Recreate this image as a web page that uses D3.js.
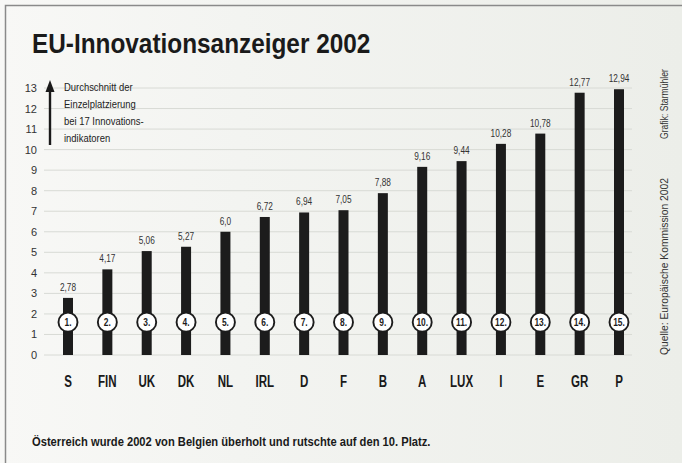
<!DOCTYPE html>
<html>
<head>
<meta charset="utf-8">
<script src="https://cdn.jsdelivr.net/npm/d3@7"></script>
<style>
  body { margin: 0; background: #fff; }
  svg text { font-family: "Liberation Sans", Arial, sans-serif; }
</style>
</head>
<body>
<script>
let width = 682;
let height = 463;

// data
let countries = ["S", "FIN", "UK", "DK", "NL", "IRL", "D", "F", "B", "A", "LUX", "I", "E", "GR", "P"];
let values = [2.78, 4.17, 5.06, 5.27, 6.0, 6.72, 6.94, 7.05, 7.88, 9.16, 9.44, 10.28, 10.78, 12.77, 12.94];
let valueLabels = ["2,78", "4,17", "5,06", "5,27", "6,0", "6,72", "6,94", "7,05", "7,88", "9,16", "9,44", "10,28", "10,78", "12,77", "12,94"];
let ranks = ["1.", "2.", "3.", "4.", "5.", "6.", "7.", "8.", "9.", "10.", "11.", "12.", "13.", "14.", "15."];
let yTicks = d3.range(0, 14);
let noteLines = ["Durchschnitt der", "Einzelplatzierung", "bei 17 Innovations-", "indikatoren"];

let svg = d3.select("body").append("svg")
  .attr("width", width)
  .attr("height", height);

// no condensed font installed, so squeeze text horizontally
let narrow = (sel, x, y, sx, rot) =>
  sel.attr("transform", (d, i) => {
    let xx = typeof x === "function" ? x(d, i) : x;
    let yy = typeof y === "function" ? y(d, i) : y;
    return `translate(${xx},${yy})` + (rot ? ` rotate(${rot})` : "") + ` scale(${sx},1)`;
  });

// background + frame
let grad = svg.append("defs").append("linearGradient").attr("id", "bg").attr("x1", 0).attr("x2", 1);
grad.append("stop").attr("offset", "0%").attr("stop-color", "#f8f8f6");
grad.append("stop").attr("offset", "35%").attr("stop-color", "#f3f4f1");
grad.append("stop").attr("offset", "100%").attr("stop-color", "#eceee9");
svg.append("rect").attr("width", width).attr("height", height).attr("fill", "url(#bg)");
svg.append("path")
  .attr("d", `M5.5,${height} V5.5 H${width}`)
  .attr("fill", "none").attr("stroke", "#8a8a8a").attr("stroke-width", 1.5);

let x = d3.scalePoint().domain(countries).range([68, 619]);
let y = d3.scaleLinear().domain([0, 13]).range([355, 88]);

// title
svg.append("text")
  .call(narrow, 32, 53, 0.87)
  .attr("font-size", 28).attr("font-weight", "bold").attr("fill", "#1a1a1a")
  .text("EU-Innovationsanzeiger 2002");

// grid lines
svg.append("g").selectAll("line").data(yTicks).join("line")
  .attr("x1", 44).attr("x2", 632)
  .attr("y1", d => y(d)).attr("y2", d => y(d))
  .attr("stroke", "#d8dad5").attr("stroke-width", 1);

// y axis labels
let yAxis = d3.axisLeft(y).tickValues(yTicks).tickSize(0).tickPadding(0);
let yg = svg.append("g").attr("transform", "translate(37,0)").call(yAxis);
yg.select(".domain").remove();
yg.selectAll("text").attr("font-size", 11).attr("fill", "#333")
  .style("font-family", "'Liberation Sans', sans-serif");

// arrow and note
svg.append("line")
  .attr("x1", 50).attr("x2", 50).attr("y1", 145).attr("y2", 90)
  .attr("stroke", "#1a1a1a").attr("stroke-width", 2.4);
svg.append("path")
  .attr("d", "M45.5,92 L50,80 L54.5,92 Z").attr("fill", "#1a1a1a");
svg.append("g").selectAll("text").data(noteLines).join("text")
  .call(narrow, 64, (d, i) => 91 + i * 17, 0.9)
  .attr("font-size", 10.5).attr("fill", "#222")
  .text(d => d);

// bars
let barW = 10;
svg.append("g").selectAll("rect").data(values).join("rect")
  .attr("x", (d, i) => x(countries[i]) - barW / 2)
  .attr("width", barW)
  .attr("y", d => y(d))
  .attr("height", d => y(0) - y(d))
  .attr("fill", "#1c1c1c");

// value labels
svg.append("g").selectAll("text").data(values).join("text")
  .call(narrow, (d, i) => x(countries[i]), d => y(d) - 7, 0.72)
  .attr("text-anchor", "middle")
  .attr("font-size", 11.5).attr("fill", "#333")
  .text((d, i) => valueLabels[i]);

// rank circles
let rankG = svg.append("g").selectAll("g").data(ranks).join("g")
  .attr("transform", (d, i) => `translate(${x(countries[i])},${y(1.6)})`);
rankG.append("circle").attr("r", 9.5)
  .attr("fill", "#fff").attr("stroke", "#1c1c1c").attr("stroke-width", 1.9);
rankG.append("text")
  .attr("transform", "scale(0.8,1)")
  .attr("text-anchor", "middle").attr("dy", "0.36em")
  .attr("font-size", 10.5).attr("font-weight", "bold").attr("fill", "#1c1c1c")
  .text(d => d);

// country labels
svg.append("g").selectAll("text").data(countries).join("text")
  .call(narrow, d => x(d), 387, 0.68)
  .attr("text-anchor", "middle")
  .attr("font-size", 17).attr("font-weight", "bold").attr("fill", "#1a1a1a")
  .text(d => d);

// side credits
svg.append("text")
  .call(narrow, 668, 139, 0.82, -90)
  .attr("font-size", 10.5).attr("fill", "#333")
  .text("Grafik: Starmühler");
svg.append("text")
  .call(narrow, 668, 355, 0.98, -90)
  .attr("font-size", 10.5).attr("fill", "#333")
  .text("Quelle: Europäische Kommission 2002");

// footer
svg.append("text")
  .call(narrow, 32, 446, 0.86)
  .attr("font-size", 13).attr("font-weight", "bold").attr("fill", "#1a1a1a")
  .text("Österreich wurde 2002 von Belgien überholt und rutschte auf den 10. Platz.");
</script>
</body>
</html>
